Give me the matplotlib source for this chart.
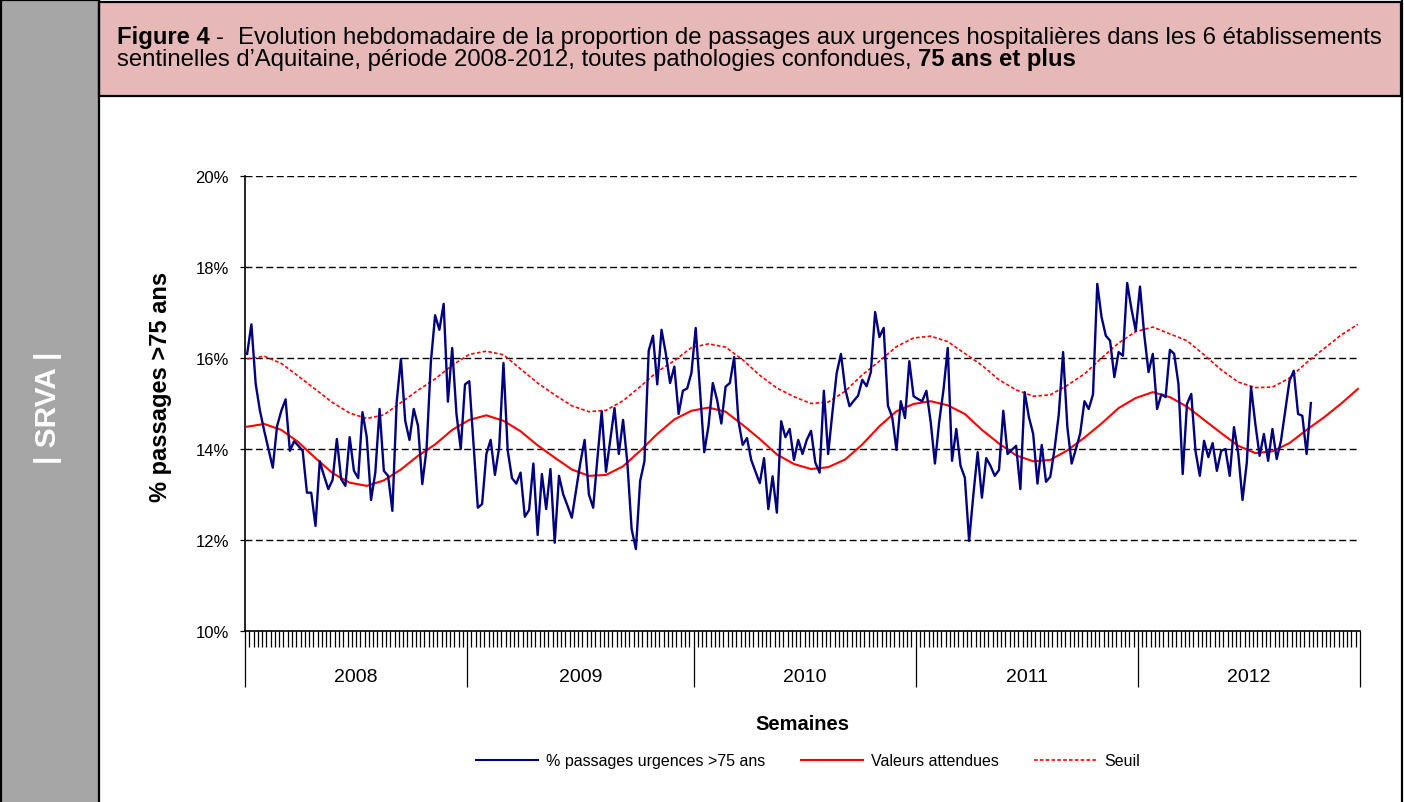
import numpy as np
import matplotlib.pyplot as plt
import matplotlib.transforms as mtransforms
from matplotlib.patches import Rectangle
from matplotlib.lines import Line2D

plt.rcParams['font.family'] = ['Liberation Sans', 'DejaVu Sans']
plt.rcParams['lines.scale_dashes'] = False

# Years shown on the x axis and number of weeks in each
years = ['2008', '2009', '2010', '2011', '2012']
weeks_per_year = [52, 53, 52, 52, 52]

# Weekly % of ER visits for patients aged 75+ (one list per year)
obs_2008 = [16.09, 16.74, 15.43, 14.84, 14.40, 14.00, 13.59, 14.50, 14.84, 15.09,
            13.96, 14.17, 14.07, 13.96, 13.04, 13.04, 12.31, 13.73, 13.41, 13.12,
            13.32, 14.22, 13.34, 13.19, 14.26, 13.52, 13.36, 14.81, 14.26, 12.88,
            13.48, 14.88, 13.52, 13.41, 12.64, 15.03, 15.98, 14.62, 14.20, 14.88,
            14.51, 13.23, 14.00, 15.90, 16.94, 16.62, 17.19, 15.04, 16.22, 14.77,
            14.00, 15.42]
obs_2009 = [15.49, 14.10, 12.71, 12.79, 13.89, 14.20, 13.43, 14.04, 15.89, 13.96,
            13.36, 13.24, 13.48, 12.51, 12.66, 13.68, 12.11, 13.45, 12.68, 13.56,
            11.94, 13.41, 13.00, 12.75, 12.49, 13.10, 13.70, 14.20, 13.00, 12.71,
            13.80, 14.83, 13.50, 14.20, 14.90, 13.89, 14.64, 13.70, 12.24, 11.80,
            13.30, 13.73, 16.16, 16.49, 15.42, 16.62, 16.10, 15.45, 15.81, 14.77,
            15.28, 15.33, 15.67]
obs_2010 = [16.66, 15.30, 13.93, 14.51, 15.45, 15.08, 14.56, 15.37, 15.45, 16.02,
            14.62, 14.09, 14.24, 13.76, 13.50, 13.25, 13.80, 12.68, 13.40, 12.60,
            14.61, 14.26, 14.44, 13.76, 14.20, 13.89, 14.20, 14.40, 13.70, 13.48,
            15.28, 13.89, 14.80, 15.67, 16.09, 15.32, 14.94, 15.06, 15.17, 15.52,
            15.38, 15.69, 17.01, 16.46, 16.66, 14.95, 14.70, 13.98, 15.05, 14.68,
            15.93, 15.16]
obs_2011 = [15.10, 15.05, 15.28, 14.60, 13.68, 14.60, 15.30, 16.22, 13.74, 14.44,
            13.63, 13.37, 11.98, 13.00, 13.93, 12.93, 13.80, 13.63, 13.41, 13.54,
            14.84, 13.89, 13.98, 14.07, 13.12, 15.25, 14.70, 14.33, 13.24, 14.09,
            13.28, 13.39, 14.00, 14.77, 16.13, 14.48, 13.68, 14.00, 14.34, 15.05,
            14.88, 15.20, 17.63, 16.90, 16.49, 16.38, 15.58, 16.13, 16.05, 17.65,
            17.08, 16.60]
obs_2012 = [17.57, 16.51, 15.69, 16.09, 14.88, 15.20, 15.14, 16.18, 16.09, 15.43,
            13.45, 14.99, 15.21, 13.95, 13.41, 14.18, 13.82, 14.13, 13.52, 13.96,
            14.00, 13.41, 14.48, 13.90, 12.88, 13.70, 15.36, 14.55, 13.85, 14.33,
            13.74, 14.44, 13.78, 14.18, 14.84, 15.50, 15.72, 14.77, 14.73, 13.89,
            15.01]

# Expected values and threshold, read every 4th week (week index from start of 2008)
red_weeks = list(range(0, 261, 4))
expected = [14.49, 14.55, 14.42, 14.15, 13.80, 13.47, 13.26, 13.19, 13.31, 13.55,
            13.85, 14.10, 14.42, 14.64, 14.74, 14.62, 14.39, 14.08, 13.81, 13.55,
            13.41, 13.43, 13.62, 13.96, 14.33, 14.65, 14.84, 14.91, 14.82, 14.53,
            14.22, 13.88, 13.67, 13.56, 13.60, 13.77, 14.10, 14.50, 14.83, 14.99,
            15.05, 14.96, 14.77, 14.42, 14.12, 13.86, 13.73, 13.76, 13.97, 14.25,
            14.56, 14.90, 15.12, 15.25, 15.14, 14.93, 14.64, 14.35, 14.07, 13.91,
            13.95, 14.13, 14.42, 14.69, 14.99, 15.32]
seuil = [15.98, 16.04, 15.88, 15.60, 15.31, 15.02, 14.79, 14.67, 14.75, 15.02,
         15.29, 15.54, 15.84, 16.08, 16.15, 16.07, 15.76, 15.45, 15.19, 14.95,
         14.82, 14.85, 15.06, 15.37, 15.70, 15.94, 16.23, 16.31, 16.24, 15.96,
         15.62, 15.34, 15.15, 15.00, 15.03, 15.27, 15.63, 15.93, 16.25, 16.44,
         16.48, 16.36, 16.10, 15.84, 15.52, 15.30, 15.16, 15.19, 15.40, 15.65,
         16.00, 16.33, 16.58, 16.68, 16.53, 16.38, 16.07, 15.74, 15.47, 15.35,
         15.36, 15.56, 15.90, 16.20, 16.50, 16.74]

y_ticks = [10, 12, 14, 16, 18, 20]

W, H = 1404, 803
fig = plt.figure(figsize=(W / 100, H / 100), dpi=100)


def fx(x):
    return x / W


def fy(y):
    return 1 - y / H


# --- page frame: grey side band, pink header box, borders
fig.add_artist(Rectangle((0, 0), fx(98), 1, transform=fig.transFigure,
                         facecolor='#A6A6A6', edgecolor='none', zorder=0))
fig.add_artist(Rectangle((fx(99), fy(97)), fx(1401 - 99), 94 / H,
                         transform=fig.transFigure, facecolor='#E6B9B8',
                         edgecolor='black', lw=1.6, zorder=1))
for xl in [1, 98.5, 1401.5]:
    fig.add_artist(Line2D([fx(xl), fx(xl)], [0, 1], transform=fig.transFigure,
                          color='black', lw=1.6, zorder=2))
fig.add_artist(Line2D([0, fx(99)], [fy(1), fy(1)], transform=fig.transFigure,
                      color='black', lw=1.6, zorder=2))

fig.text(fx(48), fy(408), '| SRVA |', rotation=90, color='white',
         fontsize=21.5, fontweight='bold', ha='center', va='center')

# --- header text with bold parts
renderer = fig.canvas.get_renderer()


def rich_line(x, y, pieces, size):
    probe1 = fig.text(0, 0, 'a a', fontsize=size)
    probe2 = fig.text(0, 0, 'aa', fontsize=size)
    space = probe1.get_window_extent(renderer).width - probe2.get_window_extent(renderer).width
    probe1.remove()
    probe2.remove()
    for s, w, gap in pieces:
        t = fig.text(fx(x), fy(y), s, fontsize=size, fontweight=w,
                     ha='left', va='baseline')
        x += t.get_window_extent(renderer).width + gap * space


rich_line(117, 44, [('Figure 4', 'bold', 1),
                    ('-', 'normal', 2),
                    ("Evolution hebdomadaire de la proportion de passages aux urgences "
                     "hospitalières dans les 6 établissements", 'normal', 0)], 17.2)
rich_line(117, 66, [("sentinelles d’Aquitaine, période 2008-2012, toutes pathologies "
                     "confondues,", 'normal', 1),
                    ('75 ans et plus', 'bold', 0)], 17.2)

# --- chart
ax = fig.add_axes([fx(245), fy(632), fx(1360 - 245), (632 - 177) / H])

obs = obs_2008 + obs_2009 + obs_2010 + obs_2011 + obs_2012
x_obs = np.arange(len(obs)) + 0.5
x_red = np.array(red_weeks) + 0.5

ax.plot(x_obs, obs, color='#000080', lw=1.7, zorder=4)
ax.plot(x_red, expected, color='#FF0000', lw=1.5, zorder=3)
ax.plot(x_red, seuil, color='#FF0000', lw=1.2, linestyle=(0, (2.6, 1.6)), zorder=3)

total_weeks = sum(weeks_per_year)
ax.set_xlim(0, total_weeks)
ax.set_ylim(10, 20)

bounds = np.concatenate([[0], np.cumsum(weeks_per_year)])
ax.set_xticks(bounds)
ax.set_xticks(np.arange(total_weeks + 1), minor=True)
ax.tick_params(axis='x', which='major', length=40, width=0.9, direction='out',
               labelbottom=False, color='black')
ax.tick_params(axis='x', which='minor', length=11.5, width=0.9, direction='out',
               color='black')

ax.set_yticks(y_ticks)
ax.set_yticklabels([f'{v}%' for v in y_ticks])
ax.tick_params(axis='y', length=3.6, width=0.9, labelsize=12, pad=8)
ax.yaxis.grid(True, color='black', lw=1.0, linestyle=(0, (5, 2.5)))
ax.set_axisbelow(True)

for side in ['top', 'right']:
    ax.spines[side].set_visible(False)
for side in ['left', 'bottom']:
    ax.spines[side].set_linewidth(1.2)

trans = mtransforms.blended_transform_factory(ax.transData, ax.transAxes)
for i, yr in enumerate(years):
    ax.text((bounds[i] + bounds[i + 1]) / 2, -(677 - 632) / 455, yr,
            transform=trans, ha='center', va='center', fontsize=14)

ax.set_xlabel('Semaines', fontsize=14.5, fontweight='bold')
ax.xaxis.set_label_coords(0.5, -(715 - 632) / 455)
ax.set_ylabel('% passages >75 ans', fontsize=17, fontweight='bold')
ax.yaxis.set_label_coords(-(245 - 172) / 1115, (632 - 387) / 455)

handles = [Line2D([], [], color='#000080', lw=1.5),
           Line2D([], [], color='#FF0000', lw=1.5),
           Line2D([], [], color='#FF0000', lw=1.2, linestyle=(0, (2.6, 1.6)))]
labels = ['% passages urgences >75 ans', 'Valeurs attendues', 'Seuil']
fig.legend(handles, labels, loc='center', ncol=3, frameon=False,
           bbox_to_anchor=(fx(808), fy(762)), fontsize=11.5,
           handlelength=3.9, handletextpad=0.5, columnspacing=2.2)

fig.savefig('out.png', dpi=100)
